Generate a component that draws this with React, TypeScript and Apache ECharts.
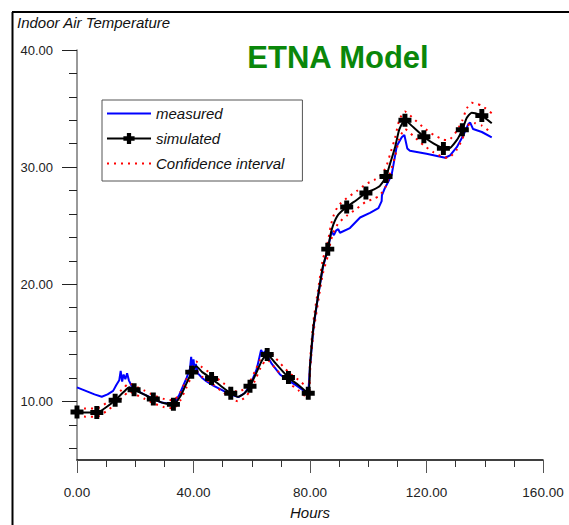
import React, { useEffect, useRef } from "react";
import * as echarts from "echarts";

// ---- data ----
const measuredHours = [
  0, 3, 6, 8.5, 10.5, 12.4, 13.5, 14.5, 15.0, 15.5, 16.0, 16.6, 17.2, 17.8, 18.8, 20, 23, 26, 29, 31.9,
  33.5, 35, 37.7, 38.8, 39.2, 39.6, 40.0, 40.4, 40.8, 41.5, 42.8, 44.5, 46.8, 49.5, 52.5, 55.4, 57.5,
  59.4, 61.7, 63.2, 64.0, 64.5, 65.5, 66.9, 69.7, 72.5, 75.4, 79.4, 80.0, 81.2, 82.9, 84.4, 86.1, 87.4,
  88.2, 89.0, 89.7, 90.3, 93.7, 97.2, 100.6, 103.5, 104.6, 104.7, 105.7, 108, 109.8, 111.5, 112.4,
  113.4, 114.3, 120, 126.4, 128.1, 130.4, 132.6, 134.4, 135, 136, 139, 142.4,
];
const measured = [
  11.2, 10.9, 10.6, 10.4, 10.6, 10.9, 11.4, 11.8, 12.6, 11.7, 12.3, 11.9, 12.4, 11.8, 11.3, 11.0, 10.6,
  10.25, 9.9, 9.8, 9.9, 10.5, 12.05, 12.8, 13.8, 12.6, 13.6, 12.7, 13.2, 12.4, 12.05, 11.7, 11.35, 11.0,
  10.6, 10.37, 10.7, 11.35, 12.75, 14.4, 14.0, 14.3, 13.8, 13.2, 12.3, 11.8, 11.35, 10.65, 13.0, 16.3,
  19.2, 21.4, 23.0, 24.5, 24.2, 24.6, 24.7, 24.4, 24.8, 25.7, 26.1, 26.5, 27.1, 27.6, 28.2, 29.3, 31.8,
  32.55, 32.75, 31.6, 31.4, 31.15, 30.8, 31.0, 31.7, 32.7, 33.7, 33.8, 33.25, 33.0, 32.55,
];

const simHours = [
  0, 3, 6.8, 10, 13.1, 16, 18, 19.6, 23, 26.2, 30, 33.1, 35.4, 37.5, 39.4, 40.9, 43, 46.2, 49.5, 52.8,
  55.3, 57.5, 59.4, 61.5, 63.5, 65.3, 68, 72.6, 76, 79.4, 80, 81.2, 82.9, 84.4, 86.1, 87.1, 88.0, 89.7,
  92.6, 96, 99.2, 102, 104, 106.1, 107.5, 109.2, 110.7, 112.6, 115.5, 119.1, 122.5, 125.8, 127.5, 130.4,
  132.3, 133.8, 135.5, 136.7, 139, 142.4,
];
const simulated = [
  9.1, 9.05, 9.05, 9.5, 10.1, 10.8, 11.2, 11.0, 10.6, 10.2, 9.85, 9.75, 10.4, 11.5, 12.5, 13.0, 12.5,
  11.95, 11.3, 10.7, 10.4, 10.7, 11.3, 12.4, 13.5, 14.0, 13.3, 12.05, 11.4, 10.7, 13.0, 16.4, 19.2, 21.5,
  23.0, 24.3, 25.1, 25.95, 26.6, 27.2, 27.8, 28.1, 28.4, 29.2, 30.3, 31.7, 33.25, 34.0, 33.4, 32.6, 32.0,
  31.6, 31.55, 32.3, 33.2, 34.2, 34.65, 34.6, 34.4, 33.75,
];
const confUpper = [
  9.45, 9.4, 9.4, 9.85, 10.45, 11.15, 11.55, 11.35, 10.95, 10.55, 10.2, 10.1, 10.75, 11.85, 12.85, 13.4,
  12.9, 12.35, 11.7, 11.1, 10.8, 11.1, 11.7, 12.8, 13.9, 14.45, 13.75, 12.5, 11.85, 11.15, 13.45, 16.9,
  19.75, 22.1, 23.6, 24.95, 25.8, 26.7, 27.35, 27.95, 28.55, 28.9, 29.2, 30.0, 31.1, 32.5, 34.05, 34.75,
  34.15, 33.35, 32.75, 32.35, 32.3, 33.1, 34.0, 35.0, 35.5, 35.45, 35.25, 34.6,
];
const confLower = [
  8.8, 8.7, 8.7, 9.15, 9.75, 10.45, 10.85, 10.65, 10.25, 9.85, 9.5, 9.4, 10.05, 11.15, 12.15, 12.6, 12.1,
  11.55, 10.9, 10.3, 10.0, 10.3, 10.9, 12.0, 13.1, 13.55, 12.85, 11.6, 10.95, 10.25, 12.55, 15.9, 18.65,
  20.9, 22.4, 23.65, 24.4, 25.2, 25.85, 26.45, 27.05, 27.3, 27.6, 28.4, 29.5, 30.9, 32.45, 33.25, 32.65,
  31.85, 31.25, 30.85, 30.8, 31.5, 32.4, 33.4, 33.8, 33.75, 33.55, 32.9,
];
const markerHours = [
  0, 6.8, 13.1, 19.6, 26.2, 33.1, 39.4, 46.2, 52.8, 59.4, 65.3, 72.6, 79.4, 86.1, 92.6, 99.2, 106.1,
  112.6, 119.1, 125.8, 132.3, 139,
];

const yMinorTicks = [6, 8, 10, 12, 14, 16, 18, 20, 22, 24, 26, 28, 30, 32, 34, 36, 38, 40];
const yMajorTicks = [10, 20, 30, 40];
const xMajorStep = 40;
const xMinorStep = 10;

const chartTitle = "ETNA Model";
const yTitle = "Indoor Air Temperature";
const xTitle = "Hours";

const FONT = "'Liberation Sans', Arial, sans-serif";
const PLUS = "path://M3.1,0H6.9V3.1H10V6.9H6.9V10H3.1V6.9H0V3.1H3.1Z";

export default function App() {
  const ref = useRef<HTMLDivElement>(null);

  useEffect(() => {
    if (!ref.current) return;
    const chart = echarts.init(ref.current, null, { renderer: "svg" });

    const simData = simHours.map((h, i) =>
      markerHours.includes(h)
        ? { value: [h, simulated[i]] }
        : { value: [h, simulated[i]], symbol: "none" }
    );

    const option: any = {
      animation: false,
      backgroundColor: "#ffffff",
      textStyle: { fontFamily: FONT },
      grid: { left: 77, right: 26, top: 50, bottom: 60, containLabel: false },
      legend: {
        orient: "vertical",
        left: 102,
        top: 100,
        data: [
          { name: "measured", itemStyle: { opacity: 0 } },
          { name: "simulated" },
          { name: "Confidence interval", itemStyle: { opacity: 0 } },
        ],
        backgroundColor: "#ffffff",
        borderColor: "#555555",
        borderWidth: 1,
        padding: [6, 18, 10, 4],
        itemWidth: 44,
        itemHeight: 14,
        itemGap: 10,
        textStyle: { fontFamily: FONT, fontSize: 15, fontStyle: "italic", color: "#111" },
      },
      graphic: [
        { type: "line", shape: { x1: 12.5, y1: 12, x2: 12.5, y2: 525 }, style: { stroke: "#000", lineWidth: 2 } },
        { type: "line", shape: { x1: 12, y1: 12, x2: 569, y2: 12 }, style: { stroke: "#000", lineWidth: 2 } },
        {
          type: "text",
          x: 17,
          y: 22,
          style: {
            text: yTitle,
            font: `italic 15px ${FONT}`,
            fill: "#111",
            textVerticalAlign: "middle",
          },
        },
        {
          type: "text",
          x: 338,
          y: 57,
          style: {
            text: chartTitle,
            font: `bold 31px ${FONT}`,
            fill: "#0a870a",
            textAlign: "center",
            textVerticalAlign: "middle",
          },
        },
      ],
      xAxis: [
        {
          type: "value",
          min: 0,
          max: 160,
          interval: xMinorStep,
          position: "bottom",
          axisLine: { show: true, lineStyle: { color: "#000", width: 1.5 } },
          axisTick: { show: true, length: 7, lineStyle: { color: "#333" } },
          axisLabel: {
            margin: 25,
            fontSize: 13.5,
            fontFamily: FONT,
            color: "#222",
            formatter: (v: number) => (v % xMajorStep === 0 ? v.toFixed(2) : ""),
          },
          splitLine: { show: false },
          name: xTitle,
          nameLocation: "middle",
          nameGap: 45,
          nameTextStyle: { fontFamily: FONT, fontSize: 15, fontStyle: "italic", color: "#111" },
        },
        {
          type: "value",
          min: 0,
          max: 160,
          interval: xMajorStep,
          position: "bottom",
          axisLine: { show: false },
          axisTick: { show: true, length: 13, lineStyle: { color: "#555" } },
          axisLabel: { show: false },
          splitLine: { show: false },
        },
      ],
      yAxis: [
        {
          type: "value",
          min: 5,
          max: 40,
          position: "left",
          axisLine: { show: true, lineStyle: { color: "#777", width: 1.5 } },
          axisTick: { show: true, length: 8, customValues: yMinorTicks, lineStyle: { color: "#222" } },
          axisLabel: {
            customValues: yMajorTicks,
            margin: 24,
            fontSize: 13,
            fontFamily: FONT,
            color: "#222",
            formatter: (v: number) => v.toFixed(2),
          },
          splitLine: { show: false },
        },
        {
          type: "value",
          min: 5,
          max: 40,
          position: "left",
          axisLine: { show: false },
          axisTick: { show: true, length: 15, customValues: yMajorTicks, lineStyle: { color: "#222" } },
          axisLabel: { show: false },
          splitLine: { show: false },
        },
      ],
      series: [
        {
          name: "measured",
          type: "line",
          data: measuredHours.map((h, i) => [h, measured[i]]),
          showSymbol: false,
          symbol: "none",
          lineStyle: { color: "#0000ff", width: 2 },
          itemStyle: { color: "#0000ff" },
          z: 2,
        },
        {
          name: "Confidence interval",
          type: "line",
          data: simHours.map((h, i) => [h, confUpper[i]]),
          symbol: "none",
          smooth: 0.2,
          lineStyle: { color: "#ff0000", width: 2, type: [2, 5] },
          itemStyle: { color: "#ff0000" },
          z: 3,
        },
        {
          name: "Confidence interval",
          type: "line",
          data: simHours.map((h, i) => [h, confLower[i]]),
          symbol: "none",
          smooth: 0.2,
          lineStyle: { color: "#ff0000", width: 2, type: [2, 5] },
          itemStyle: { color: "#ff0000" },
          z: 3,
        },
        {
          name: "simulated",
          type: "line",
          data: simData,
          symbol: PLUS,
          symbolSize: 13,
          showSymbol: true,
          smooth: 0.2,
          lineStyle: { color: "#000000", width: 2 },
          itemStyle: { color: "#000000" },
          z: 5,
        },
      ],
    };

    chart.setOption(option);
    return () => chart.dispose();
  }, []);

  return (
    <div
      ref={ref}
      style={{ position: "absolute", left: 0, top: 0, width: 569, height: 525 }}
    />
  );
}
